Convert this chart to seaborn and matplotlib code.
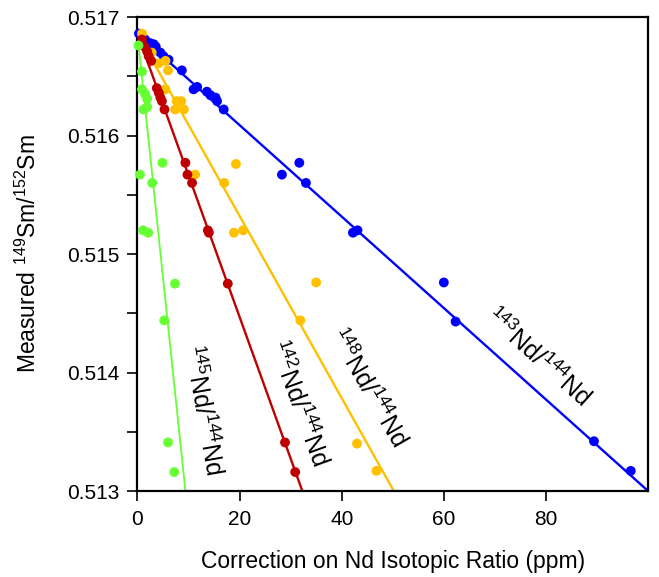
import numpy as np
import pandas as pd
import matplotlib
matplotlib.use("Agg")
import matplotlib.pyplot as plt
import seaborn as sns

# measured points (correction in ppm, measured 149Sm/152Sm) per ratio
nd143_x = [0.3, 1.5, 2.5, 3.2, 3.6, 4.5, 5.1, 6.1, 8.7, 11.0, 11.7, 13.6, 14.3,
           15.3, 15.6, 16.9, 28.3, 31.7, 33.0, 42.2, 43.1, 60.0, 62.3, 89.4, 96.6]
nd143_y = [0.51686, 0.51681, 0.51678, 0.51677, 0.51675, 0.51670, 0.51667, 0.51664,
           0.51655, 0.51639, 0.51641, 0.51637, 0.51634, 0.51632, 0.51629, 0.51622,
           0.51567, 0.51577, 0.51560, 0.51518, 0.51520, 0.51476, 0.51443, 0.51342,
           0.51317]

nd148_x = [0.9, 2.8, 4.2, 5.5, 6.0, 5.5, 7.7, 8.6, 7.4, 9.1, 11.3, 19.3, 17.0,
           18.9, 20.7, 35.0, 31.9, 43.0, 46.8]
nd148_y = [0.51686, 0.51670, 0.51661, 0.51663, 0.51655, 0.51639, 0.51629, 0.51629,
           0.51622, 0.51622, 0.51567, 0.51576, 0.51560, 0.51518, 0.51520, 0.51476,
           0.51444, 0.51340, 0.51317]

nd142_x = [0.9, 1.4, 1.9, 2.2, 2.7, 3.8, 4.2, 4.5, 4.8, 5.3, 9.4, 9.8, 10.7,
           13.8, 14.0, 17.7, 28.9, 30.9]
nd142_y = [0.51681, 0.51675, 0.51671, 0.51667, 0.51663, 0.51640, 0.51636, 0.51632,
           0.51629, 0.51622, 0.51577, 0.51567, 0.51560, 0.51520, 0.51518, 0.51475,
           0.51341, 0.51316]

nd145_x = [0.2, 0.9, 0.9, 1.5, 1.9, 1.9, 1.2, 4.9, 0.5, 2.9, 1.1, 2.1, 7.35,
           5.25, 6.0, 7.2]
nd145_y = [0.51676, 0.51654, 0.51639, 0.51635, 0.51631, 0.51624, 0.51622, 0.51577,
           0.51567, 0.51560, 0.51520, 0.51518, 0.51475, 0.51444, 0.51341, 0.51316]

# fitted lines: common intercept, x where each line reaches 0.513
ratios = ["143Nd/144Nd", "148Nd/144Nd", "142Nd/144Nd", "145Nd/144Nd"]
intercept = 0.51686
x_at_0513 = [100.0, 50.2, 32.3, 9.4]
colors = ["#0000FF", "#FFC000", "#C00000", "#66FF33"]
labels = [r"$^{143}$Nd/$^{144}$Nd", r"$^{148}$Nd/$^{144}$Nd",
          r"$^{142}$Nd/$^{144}$Nd", r"$^{145}$Nd/$^{144}$Nd"]

sns.set_style("ticks")
plt.rcParams["font.family"] = ["Liberation Sans", "DejaVu Sans"]
plt.rcParams["mathtext.fontset"] = "custom"
plt.rcParams["mathtext.rm"] = "Liberation Sans"
plt.rcParams["mathtext.it"] = "Liberation Sans:italic"
for key in ["text.color", "axes.labelcolor", "xtick.color", "ytick.color",
            "xtick.labelcolor", "ytick.labelcolor"]:
    plt.rcParams[key] = "black"

points = pd.concat([
    pd.DataFrame({"x": nd143_x, "y": nd143_y, "ratio": ratios[0]}),
    pd.DataFrame({"x": nd148_x, "y": nd148_y, "ratio": ratios[1]}),
    pd.DataFrame({"x": nd142_x, "y": nd142_y, "ratio": ratios[2]}),
    pd.DataFrame({"x": nd145_x, "y": nd145_y, "ratio": ratios[3]}),
])

fit_rows = []
for name, xi in zip(ratios, x_at_0513):
    slope = (0.513 - intercept) / xi
    for xv in (0.0, 100.0):
        fit_rows.append({"x": xv, "y": intercept + slope * xv, "ratio": name})
fits = pd.DataFrame(fit_rows)

palette = dict(zip(ratios, colors))

fig = plt.figure(figsize=(6.59, 5.77), dpi=100)
ax = fig.add_axes([0.2085, 0.149, 0.775, 0.8215])

for name in ratios:
    lw = 1.3 if name.startswith("145") else 1.7
    sns.lineplot(data=fits[fits.ratio == name], x="x", y="y", color=palette[name],
                 lw=lw, ax=ax, legend=False, zorder=2)
sns.scatterplot(data=points, x="x", y="y", hue="ratio", palette=palette,
                s=50, edgecolor="none", ax=ax, legend=False, zorder=3, clip_on=False)

ax.set_xlim(0, 100)
ax.set_ylim(0.513, 0.517)
ax.set_xticks([0, 20, 40, 60, 80])
ax.set_yticks([0.513, 0.514, 0.515, 0.516, 0.517])
ax.set_yticklabels(["0.513", "0.514", "0.515", "0.516", "0.517"])
ax.set_yticks(np.arange(0.5135, 0.517, 0.001), minor=True)
ax.tick_params(axis="both", which="both", direction="out", length=7, width=1.2,
               labelsize=15, color="black")
ax.tick_params(axis="x", pad=7)
ax.tick_params(axis="y", pad=6)
for sp in ax.spines.values():
    sp.set_linewidth(1.6)
    sp.set_color("black")

ax.set_xlabel("Correction on Nd Isotopic Ratio (ppm)", fontsize=16.5, labelpad=15)
ax.set_ylabel(r"Measured $^{149}$Sm/$^{152}$Sm", fontsize=16.5, labelpad=19)

label_pos = [(78.3, 0.51413, -42), (45.0, 0.51387, -60),
             (31.5, 0.51374, -70), (12.8, 0.51368, -80)]
for lab, (tx, ty, rot) in zip(labels, label_pos):
    ax.text(tx, ty, lab, fontsize=18, rotation=rot, rotation_mode="anchor",
            ha="center", va="center", color="black")

fig.savefig("out.png", dpi=100)
